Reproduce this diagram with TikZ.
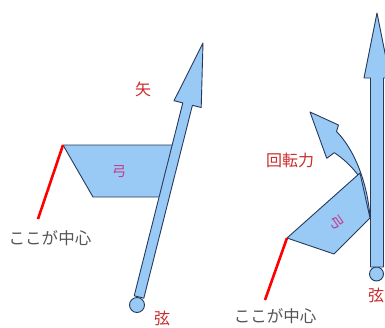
\documentclass[tikz,border=0pt]{standalone}
\usepackage{fontspec}
\newfontfamily\jp{Noto Sans CJK JP}
\definecolor{bowblue}{RGB}{153,202,245}
\definecolor{edgeblue}{RGB}{38,58,92}
\definecolor{labelred}{RGB}{205,45,45}
\definecolor{bowtext}{RGB}{200,50,140}
\definecolor{notegray}{RGB}{85,85,85}
\begin{document}
\begin{tikzpicture}[x=1pt,y=-1pt,
  part/.style={fill=bowblue, draw=edgeblue, line width=0.9pt, line join=round},
  pivotline/.style={draw=red, line width=2.6pt},
  redlabel/.style={text=labelred, font=\jp\fontsize{16}{16}\selectfont, inner sep=0pt},
  bowlabel/.style={text=bowtext, font=\jp\fontsize{14}{14}\selectfont, inner sep=0pt},
  notelabel/.style={text=notegray, font=\jp\fontsize{16.5}{16.5}\selectfont, inner sep=0pt}]
\useasboundingbox (0,0) rectangle (385,327);
\fill[white] (0,0) rectangle (385,327);

% ---------- left: bow at rest ----------
\coordinate (Lpiv) at (63,145);
\coordinate (Lend) at (38,219);
\draw[part] (Lpiv) -- (175,145) -- (162,197) -- (93,197) -- cycle;
\draw[part] (137,305) circle (7.5);
\draw[part] (134.2,295.8) -- (182.8,102.9) -- (174,100.7) -- (203,43)
  -- (201.2,107.5) -- (192.4,105.3) -- (143.8,298.2) -- cycle;
\draw[pivotline] (Lpiv) -- (Lend);
\node[redlabel]  (arrowL) at (143,89)  {矢};
\node[bowlabel]  (bowL)   at (119,172) {弓};
\node[notelabel] (noteL)  at (50,238)  {ここが中心};
\node[redlabel]  (strL)   at (162,318.5) {弦};

% ---------- right: bow turned ----------
\coordinate (Rpiv) at (287,238);
\coordinate (Rend) at (265,300);
% turning force
\draw[part] (370,218) .. controls (368,185) and (355,150) .. (336.5,131.5)
  -- (338.5,125) -- (310,112) -- (326.7,158.3) -- (334.3,152.7)
  .. controls (344,159) and (352,167) .. (358,175) -- cycle;
\draw[part] (Rpiv) -- (360,173) -- (370,218) -- (334,254) -- cycle;
\draw[part] (376.5,274) circle (7);
\draw[part] (370.5,267) -- (370.5,78) -- (364,78) -- (377,13) -- (390,78)
  -- (383.5,78) -- (383.5,267) -- cycle;
\draw[pivotline] (Rpiv) -- (Rend);
\node[redlabel]  (force)  at (290,160) {回転力};
\node[bowlabel, rotate=-55] (bowR) at (337,222) {弓};
\node[notelabel] (noteR)  at (275,316) {ここが中心};
\node[redlabel]  (strR)   at (376,295) {弦};
\end{tikzpicture}
\end{document}
